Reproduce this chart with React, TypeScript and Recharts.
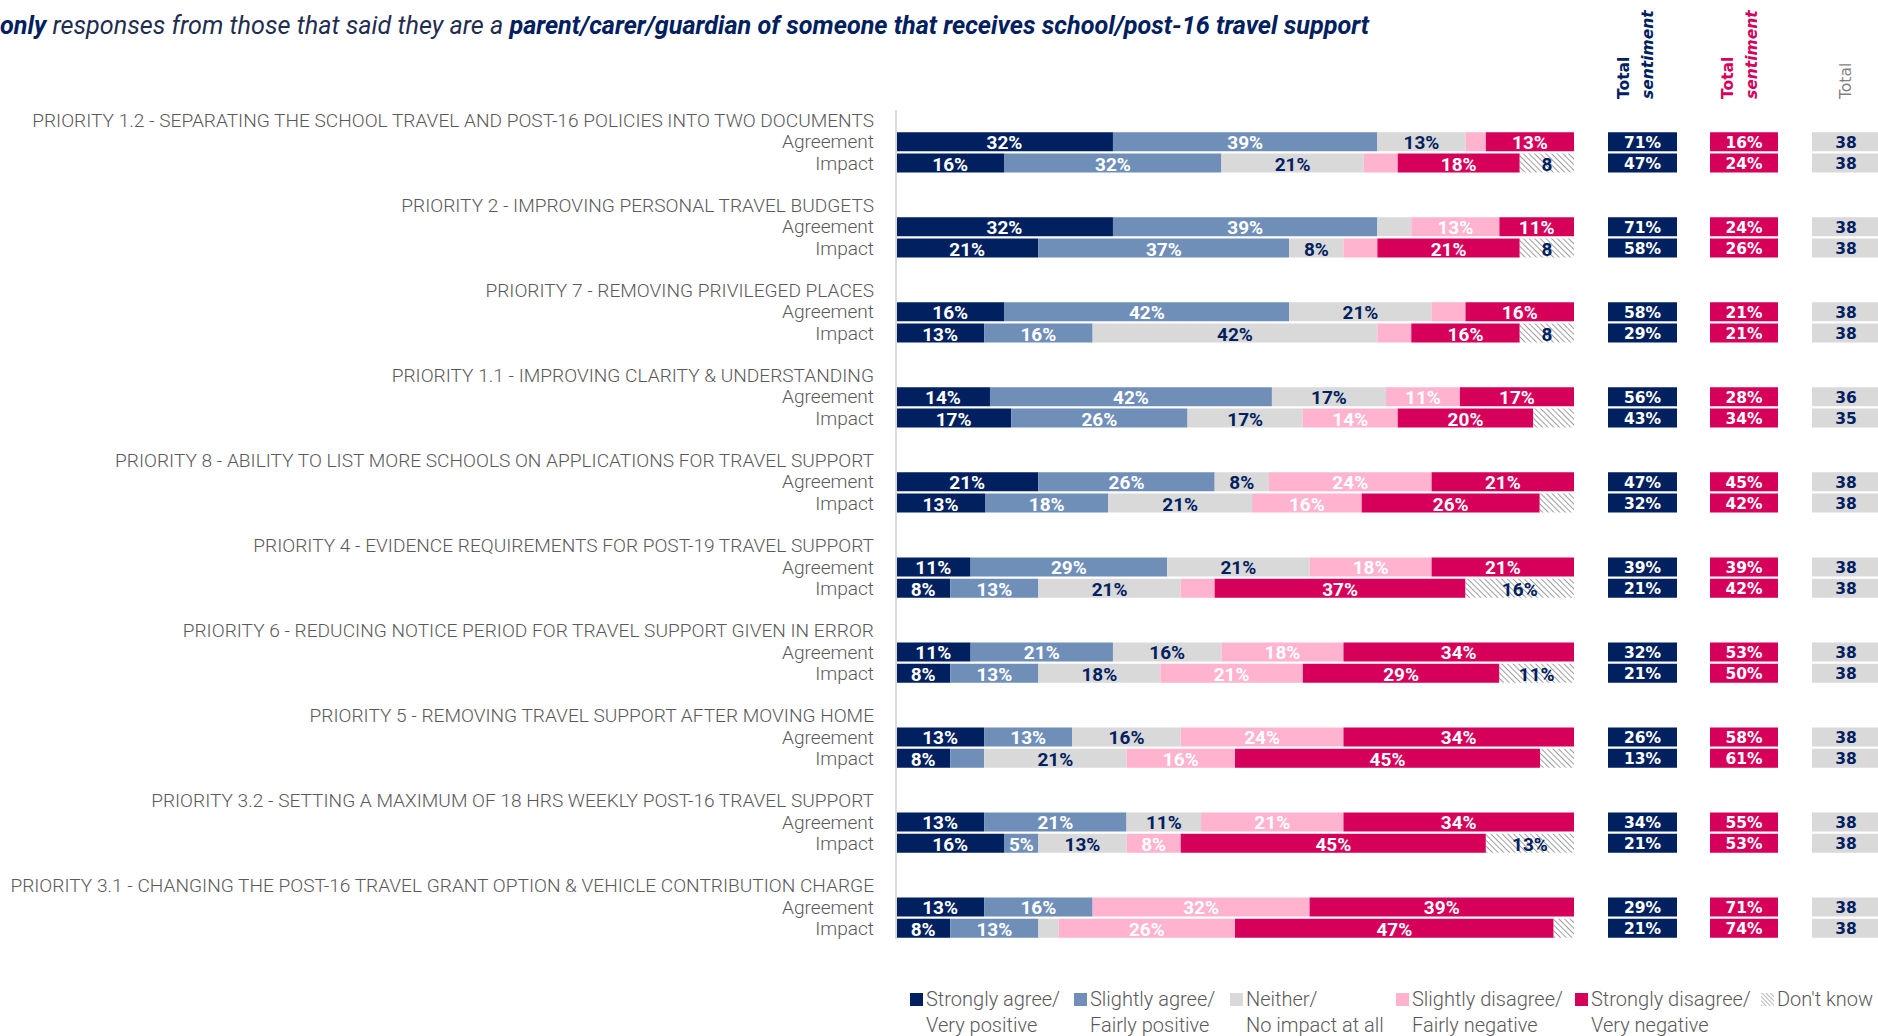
import React from 'react'
import { BarChart, Bar, XAxis, YAxis, LabelList } from 'recharts'

const priorities = [
  'PRIORITY 1.2 - SEPARATING THE SCHOOL TRAVEL AND POST-16 POLICIES INTO TWO DOCUMENTS',
  'PRIORITY 2 - IMPROVING PERSONAL TRAVEL BUDGETS',
  'PRIORITY 7 - REMOVING PRIVILEGED PLACES',
  'PRIORITY 1.1 - IMPROVING CLARITY & UNDERSTANDING',
  'PRIORITY 8 - ABILITY TO LIST MORE SCHOOLS ON APPLICATIONS FOR TRAVEL SUPPORT',
  'PRIORITY 4 - EVIDENCE REQUIREMENTS FOR POST-19 TRAVEL SUPPORT',
  'PRIORITY 6 - REDUCING NOTICE PERIOD FOR TRAVEL SUPPORT GIVEN IN ERROR',
  'PRIORITY 5 - REMOVING TRAVEL SUPPORT AFTER MOVING HOME',
  'PRIORITY 3.2 - SETTING A MAXIMUM OF 18 HRS WEEKLY POST-16 TRAVEL SUPPORT',
  'PRIORITY 3.1 - CHANGING THE POST-16 TRAVEL GRANT OPTION & VEHICLE CONTRIBUTION CHARGE'
]

// % answering each option, "Agreement" question
const stronglyAgreeA = [32, 32, 16, 14, 21, 11, 11, 13, 13, 13]
const slightlyAgreeA = [39, 39, 42, 42, 26, 29, 21, 13, 21, 16]
const neitherA = [13, 5, 21, 17, 8, 21, 16, 16, 11, 0]
const slightlyDisagreeA = [3, 13, 5, 11, 24, 18, 18, 24, 21, 32]
const stronglyDisagreeA = [13, 11, 16, 17, 21, 21, 34, 34, 34, 39]
const dontKnowA = [0, 0, 0, 0, 0, 0, 0, 0, 0, 0]

// % answering each option, "Impact" question
const stronglyAgreeI = [16, 21, 13, 17, 13, 8, 8, 8, 16, 8]
const slightlyAgreeI = [32, 37, 16, 26, 18, 13, 13, 5, 5, 13]
const neitherI = [21, 8, 42, 17, 21, 21, 18, 21, 13, 3]
const slightlyDisagreeI = [5, 5, 5, 14, 16, 5, 21, 16, 8, 26]
const stronglyDisagreeI = [18, 21, 16, 20, 26, 37, 29, 45, 45, 47]
const dontKnowI = [8, 8, 8, 6, 5, 16, 11, 5, 13, 3]

// side columns
const positiveA = [71, 71, 58, 56, 47, 39, 32, 26, 34, 29]
const positiveI = [47, 58, 29, 43, 32, 21, 21, 13, 21, 21]
const negativeA = [16, 24, 21, 28, 45, 39, 53, 58, 55, 71]
const negativeI = [24, 26, 21, 34, 42, 42, 50, 61, 53, 74]
const baseA = [38, 38, 38, 36, 38, 38, 38, 38, 38, 38]
const baseI = [38, 38, 38, 35, 38, 38, 38, 38, 38, 38]

// small segments are unlabelled, except this one
const labelledSmall = [{ row: 'p8-i', key: 'sla' }]

const NAVY = '#002060'
const PINK = '#d6005a'
const GREY_TEXT = '#595959'

const series = [
  { key: 'sa', line1: 'Strongly agree/', line2: 'Very positive', color: NAVY, text: '#ffffff' },
  { key: 'sla', line1: 'Slightly agree/', line2: 'Fairly positive', color: '#6f8fb9', text: '#ffffff' },
  { key: 'n', line1: 'Neither/', line2: 'No impact at all', color: '#d9d9d9', text: NAVY },
  { key: 'sld', line1: 'Slightly disagree/', line2: 'Fairly negative', color: '#ffb3cf', text: '#ffffff' },
  { key: 'sd', line1: 'Strongly disagree/', line2: 'Very negative', color: PINK, text: '#ffffff' },
  { key: 'dk', line1: "Don't know", line2: '', color: 'url(#dkHatch)', text: NAVY }
]
const legendWidths = [164, 156, 166, 179, 186, 120]

const empty = { sa: 0, sla: 0, n: 0, sld: 0, sd: 0, dk: 0, box: 0, pos: 0, neg: 0, base: 0 }

const rows: any[] = priorities.flatMap((p, g) => {
  const out: any[] = [
    { ...empty, id: `p${g}-t`, label: p },
    {
      id: `p${g}-a`, label: 'Agreement', box: 1,
      sa: stronglyAgreeA[g], sla: slightlyAgreeA[g], n: neitherA[g],
      sld: slightlyDisagreeA[g], sd: stronglyDisagreeA[g], dk: dontKnowA[g],
      pos: positiveA[g], neg: negativeA[g], base: baseA[g]
    },
    {
      id: `p${g}-i`, label: 'Impact', box: 1,
      sa: stronglyAgreeI[g], sla: slightlyAgreeI[g], n: neitherI[g],
      sld: slightlyDisagreeI[g], sd: stronglyDisagreeI[g], dk: dontKnowI[g],
      pos: positiveI[g], neg: negativeI[g], base: baseI[g]
    }
  ]
  if (g < priorities.length - 1) out.push({ ...empty, id: `p${g}-s`, label: '' })
  return out
})

const CHART_H = 960
const MARGIN_TOP = 110
const MARGIN_BOTTOM = 21
const BAR = 19

// text shown on a segment ('' when hidden)
const segText = (row: any, key: string) => {
  const v = row[key]
  if (!v) return ''
  const forced = labelledSmall.some(f => f.row === row.id && f.key === key)
  if (v < 7 && !forced) return ''
  return key === 'dk' && v < 10 ? `${v}` : `${v}%`
}

const segLabel = (s: any) => (props: any) => {
  const { x, y, width, height, value } = props
  if (!value) return null
  return (
    <text
      x={Number(x) + Number(width) / 2}
      y={Number(y) + Number(height) / 2 + 1}
      textAnchor='middle'
      dominantBaseline='central'
      fill={s.text}
      fontFamily='Roboto'
      fontWeight={700}
      fontSize={19}
    >
      {value}
    </text>
  )
}

const CategoryTick = (props: any) => {
  const { x, y, payload } = props
  const row = rows.find(r => r.id === payload.value)
  if (!row || !row.label) return null
  return (
    <text
      x={x}
      y={y}
      textAnchor='end'
      dominantBaseline='central'
      fill={GREY_TEXT}
      fontFamily='Roboto'
      fontWeight={300}
      fontSize={19.1}
    >
      {row.label}
    </text>
  )
}

function SideColumn ({ valueKey, fill, textColor, left, width, suffix }: any) {
  return (
    <div style={{ position: 'absolute', left, top: 0 }}>
      <BarChart
        width={width}
        height={CHART_H}
        data={rows}
        layout='vertical'
        margin={{ top: MARGIN_TOP, right: 0, bottom: MARGIN_BOTTOM, left: 0 }}
      >
        <XAxis type='number' domain={[0, 1]} hide />
        <YAxis type='category' dataKey='id' hide width={0} />
        <Bar dataKey='box' fill={fill} barSize={BAR} isAnimationActive={false}>
          <LabelList
            dataKey={valueKey}
            content={(p: any) => {
              if (!p.value) return null
              return (
                <text
                  x={Number(p.x) + Number(p.width) / 2}
                  y={Number(p.y) + Number(p.height) / 2 + 1}
                  textAnchor='middle'
                  dominantBaseline='central'
                  fill={textColor}
                  fontFamily='DejaVu Sans'
                  fontWeight={700}
                  fontSize={15.5}
                >
                  {p.value}{suffix}
                </text>
              )
            }}
          />
        </Bar>
      </BarChart>
    </div>
  )
}

const headers = [
  { x: 1629, bold: true, color: NAVY, italicLine: 'sentiment' },
  { x: 1733, bold: true, color: PINK, italicLine: 'sentiment' },
  { x: 1851, bold: false, color: '#7f7f7f', italicLine: '' }
]

export default function App () {
  return (
    <div style={{ position: 'absolute', left: 0, top: 0, width: 1878, height: 1036, overflow: 'hidden', background: '#fff' }}>
      <div
        style={{
          position: 'absolute', left: 0, top: 11, whiteSpace: 'nowrap',
          fontFamily: 'Roboto', fontStyle: 'italic', fontSize: 25.2, color: '#1f2d50'
        }}
      >
        <b style={{ color: NAVY }}>only</b> responses from those that said they are a{' '}
        <b style={{ color: NAVY }}>parent/carer/guardian of someone that receives school/post-16 travel support</b>
      </div>

      <svg width={1878} height={110} style={{ position: 'absolute', left: 0, top: 0 }}>
        {headers.map((h, i) => (
          <g key={i}>
            <text
              transform={`translate(${h.x}, 99) rotate(-90)`}
              fill={h.color}
              fontFamily='DejaVu Sans'
              fontWeight={h.bold ? 700 : 400}
              fontSize={15.5}
            >
              Total
            </text>
            {h.italicLine && (
              <text
                transform={`translate(${h.x + 24}, 99) rotate(-90)`}
                fill={h.color}
                fontFamily='DejaVu Sans'
                fontWeight={700}
                fontStyle='italic'
                fontSize={15.5}
              >
                {h.italicLine}
              </text>
            )}
          </g>
        ))}
      </svg>

      <div style={{ position: 'absolute', left: 0, top: 0 }}>
        <BarChart
          width={1590}
          height={CHART_H}
          data={rows}
          layout='vertical'
          stackOffset='expand'
          margin={{ top: MARGIN_TOP, right: 16, bottom: MARGIN_BOTTOM, left: 0 }}
        >
          <defs>
            <pattern id='dkHatch' width='4' height='4' patternUnits='userSpaceOnUse' patternTransform='rotate(-45)'>
              <rect width='4' height='4' fill='#ffffff' />
              <line x1='0' y1='0' x2='0' y2='4' stroke='#6b6b6b' strokeWidth='1.3' />
            </pattern>
          </defs>
          <XAxis type='number' hide />
          <YAxis
            type='category'
            dataKey='id'
            width={896}
            interval={0}
            tickLine={false}
            tickSize={0}
            tickMargin={22}
            axisLine={{ stroke: '#d9d9d9', strokeWidth: 2 }}
            tick={(p: any) => <CategoryTick {...p} />}
          />
          {series.map(s => (
            <Bar
              key={s.key}
              dataKey={s.key}
              stackId='a'
              fill={s.color}
              barSize={BAR}
              isAnimationActive={false}
            >
              <LabelList dataKey={(r: any) => segText(r, s.key)} content={segLabel(s)} />
            </Bar>
          ))}
        </BarChart>
      </div>

      <SideColumn valueKey='pos' fill={NAVY} textColor='#ffffff' left={1608} width={69} suffix='%' />
      <SideColumn valueKey='neg' fill={PINK} textColor='#ffffff' left={1710} width={68} suffix='%' />
      <SideColumn valueKey='base' fill='#d9d9d9' textColor={NAVY} left={1812} width={68} suffix='' />

      <div
        style={{
          position: 'absolute', left: 910, top: 986, display: 'flex',
          fontFamily: 'Roboto', fontWeight: 300, fontSize: 20, color: GREY_TEXT, lineHeight: '26px'
        }}
      >
        {series.map((s, i) => (
          <div key={s.key} style={{ display: 'flex', alignItems: 'flex-start', width: legendWidths[i], flex: 'none' }}>
            <svg width={13} height={13} style={{ marginTop: 7, marginRight: 3, flex: 'none' }}>
              {s.key === 'dk'
                ? (
                  <>
                    <defs>
                      <pattern id='dkLegend' width='3' height='3' patternUnits='userSpaceOnUse' patternTransform='rotate(-45)'>
                        <rect width='3' height='3' fill='#ffffff' />
                        <line x1='0' y1='0' x2='0' y2='3' stroke='#6b6b6b' strokeWidth='1' />
                      </pattern>
                    </defs>
                    <rect width={13} height={13} fill='url(#dkLegend)' />
                  </>
                  )
                : <rect width={13} height={13} fill={s.color} />}
            </svg>
            <div style={{ whiteSpace: 'nowrap' }}>
              <div>{s.line1}</div>
              <div>{s.line2}</div>
            </div>
          </div>
        ))}
      </div>
    </div>
  )
}
